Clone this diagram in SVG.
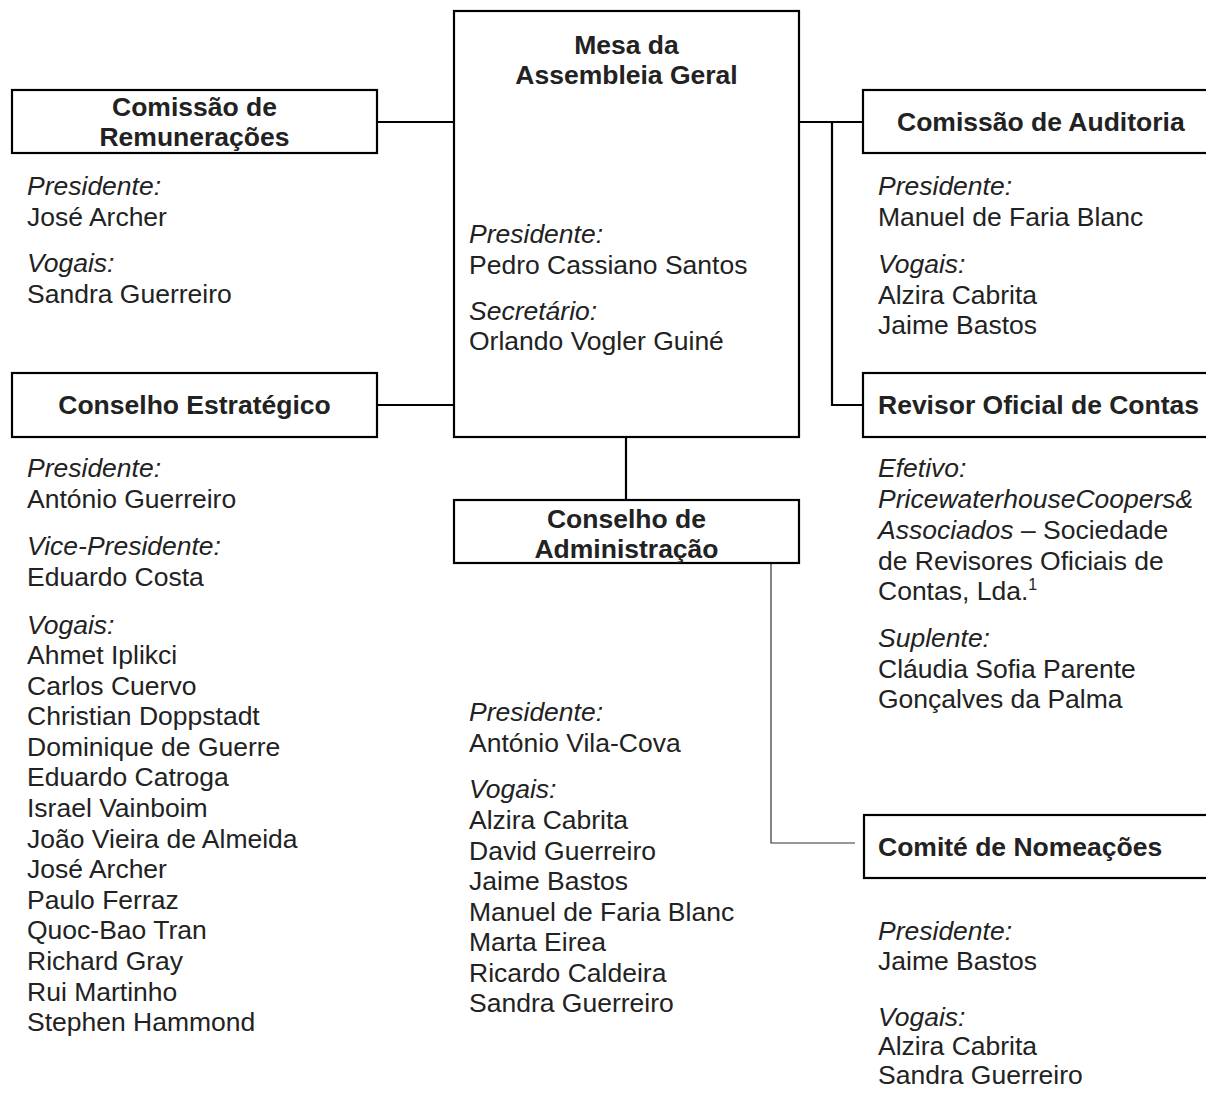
<svg xmlns="http://www.w3.org/2000/svg" width="1206" height="1093" viewBox="0 0 1206 1093">
<style>
text{font-family:"Liberation Sans",Arial,sans-serif;font-size:26.5px;fill:#222}
.h{font-weight:bold;text-anchor:middle}
.hl{font-weight:bold}
.i{font-style:italic}
.box{fill:#fff;stroke:#000;stroke-width:2.2}
.con{stroke:#000;stroke-width:2.2;fill:none}
.thin{stroke:#333;stroke-width:1.2;fill:none}
</style>
<rect width="1206" height="1093" fill="#fff"/>
<g id="connectors">
<line class="con" x1="377" y1="122" x2="454" y2="122"/>
<line class="con" x1="377" y1="405" x2="454" y2="405"/>
<line class="con" x1="799" y1="122" x2="863" y2="122"/>
<polyline class="con" points="832,122 832,405 863,405"/>
<line class="con" x1="626" y1="437" x2="626" y2="500"/>
<polyline class="thin" points="771,563 771,843 855,843"/>
</g>
<g id="mesa">
<rect class="box" x="454" y="11" width="345" height="426"/>
<text class="h" x="626.5" y="54">Mesa da</text>
<text class="h" x="626.5" y="84">Assembleia Geral</text>
<text class="i" x="469" y="243">Presidente:</text>
<text x="469" y="274">Pedro Cassiano Santos</text>
<text class="i" x="469" y="320">Secretário:</text>
<text x="469" y="350">Orlando Vogler Guiné</text>
</g>
<g id="remuneracoes">
<rect class="box" x="12" y="90" width="365" height="63"/>
<text class="h" x="194.5" y="116">Comissão de</text>
<text class="h" x="194.5" y="146">Remunerações</text>
<text class="i" x="27" y="195">Presidente:</text>
<text x="27" y="226">José Archer</text>
<text class="i" x="27" y="272">Vogais:</text>
<text x="27" y="303">Sandra Guerreiro</text>
</g>
<g id="estrategico">
<rect class="box" x="12" y="373" width="365" height="64"/>
<text class="h" x="194.5" y="414">Conselho Estratégico</text>
<text class="i" x="27" y="477">Presidente:</text>
<text x="27" y="508">António Guerreiro</text>
<text class="i" x="27" y="555">Vice-Presidente:</text>
<text x="27" y="586">Eduardo Costa</text>
<text class="i" x="27" y="634">Vogais:</text>
<text x="27" y="664">Ahmet Iplikci</text>
<text x="27" y="695">Carlos Cuervo</text>
<text x="27" y="725">Christian Doppstadt</text>
<text x="27" y="756">Dominique de Guerre</text>
<text x="27" y="786">Eduardo Catroga</text>
<text x="27" y="817">Israel Vainboim</text>
<text x="27" y="848">João Vieira de Almeida</text>
<text x="27" y="878">José Archer</text>
<text x="27" y="909">Paulo Ferraz</text>
<text x="27" y="939">Quoc-Bao Tran</text>
<text x="27" y="970">Richard Gray</text>
<text x="27" y="1001">Rui Martinho</text>
<text x="27" y="1031">Stephen Hammond</text>
</g>
<g id="auditoria">
<rect class="box" x="863" y="90" width="360" height="63"/>
<text class="hl" x="897" y="131">Comissão de Auditoria</text>
<text class="i" x="878" y="195">Presidente:</text>
<text x="878" y="226">Manuel de Faria Blanc</text>
<text class="i" x="878" y="273">Vogais:</text>
<text x="878" y="304">Alzira Cabrita</text>
<text x="878" y="334">Jaime Bastos</text>
</g>
<g id="revisor">
<rect class="box" x="863" y="373" width="360" height="64"/>
<text class="hl" x="878" y="414">Revisor Oficial de Contas</text>
<text class="i" x="878" y="477">Efetivo:</text>
<text class="i" x="878" y="508">PricewaterhouseCoopers&amp;</text>
<text x="878" y="539"><tspan class="i">Associados</tspan> – Sociedade</text>
<text x="878" y="570">de Revisores Oficiais de</text>
<text x="878" y="600">Contas, Lda.<tspan font-size="16" dy="-10">1</tspan></text>
<text class="i" x="878" y="647">Suplente:</text>
<text x="878" y="678">Cláudia Sofia Parente</text>
<text x="878" y="708">Gonçalves da Palma</text>
</g>
<g id="administracao">
<rect class="box" x="454" y="500" width="345" height="63"/>
<text class="h" x="626.5" y="528">Conselho de</text>
<text class="h" x="626.5" y="558">Administração</text>
<text class="i" x="469" y="721">Presidente:</text>
<text x="469" y="752">António Vila-Cova</text>
<text class="i" x="469" y="798">Vogais:</text>
<text x="469" y="829">Alzira Cabrita</text>
<text x="469" y="860">David Guerreiro</text>
<text x="469" y="890">Jaime Bastos</text>
<text x="469" y="921">Manuel de Faria Blanc</text>
<text x="469" y="951">Marta Eirea</text>
<text x="469" y="982">Ricardo Caldeira</text>
<text x="469" y="1012">Sandra Guerreiro</text>
</g>
<g id="nomeacoes">
<rect class="box" x="864" y="815" width="360" height="63"/>
<text class="hl" x="878" y="856">Comité de Nomeações</text>
<text class="i" x="878" y="940">Presidente:</text>
<text x="878" y="970">Jaime Bastos</text>
<text class="i" x="878" y="1026">Vogais:</text>
<text x="878" y="1055">Alzira Cabrita</text>
<text x="878" y="1084">Sandra Guerreiro</text>
</g>
</svg>
